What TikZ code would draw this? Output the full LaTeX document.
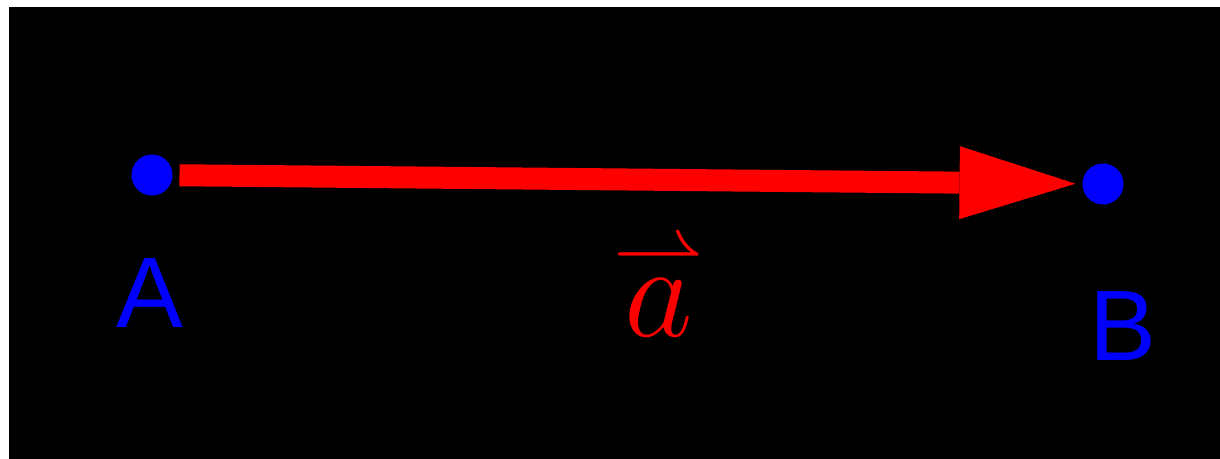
\documentclass[tikz,border=0pt]{standalone}
\usepackage{amsmath}
\usepackage{fontspec}
\newfontfamily\arialfont{Liberation Sans}
\usetikzlibrary{arrows.meta}
\definecolor{ggred}{RGB}{255,0,0}
\definecolor{ggblue}{RGB}{0,0,255}
\begin{document}
\begin{tikzpicture}[x=0.02cm, y=-0.02cm, line join=round,
	dot/.style={circle, fill=ggblue, inner sep=0pt, minimum size=0.82cm, outer sep=0.14cm},
	nhan/.style={text=ggblue, font=\arialfont\fontsize{57}{60}\selectfont, anchor=base, inner sep=0pt}]

				% Khung nền đen
				\fill[white] (0,0) rectangle (1220,459);
				\fill[black] (9,7) rectangle (1220,459);
				% Các điểm A, B
				\node[dot] (A) at (152,175) {};
				\node[dot] (B) at (1103,184) {};
				% Vẽ vectơ a từ A đến B
				\draw[ggred, line width=0.44cm, -{Triangle[length=2.32cm, width=1.46cm, line width=0pt]}] (A) -- (B);
				% Thêm nhãn
				\node[nhan] (nA) at (150,327) {A};
				\node[nhan] (nB) at (1123,360) {B};
				\node[text=ggred, anchor=base, inner sep=0pt, font=\huge, scale=3.66, transform shape] (na) at (659,336) {$\overset{\smash{\raisebox{-4pt}{$\scriptstyle\rightharpoonup$}}}{a}$};

\end{tikzpicture}
\end{document}
